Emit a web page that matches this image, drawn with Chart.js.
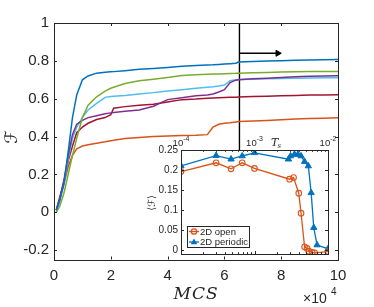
<!DOCTYPE html>
<html>
<head>
<meta charset="utf-8">
<script src="https://cdn.jsdelivr.net/npm/chart.js@4.4.0/dist/chart.umd.min.js"></script>
<style>
html, body { margin: 0; padding: 0; background: #fff; }
#wrap { position: relative; width: 374px; height: 307px; }
canvas { position: absolute; left: 0; top: 0; }
</style>
</head>
<body>
<div id="wrap">
  <canvas id="main" width="374" height="307"></canvas>
  <canvas id="inset" width="374" height="307"></canvas>
</div>
<script>
// main panel: F vs MCS (x in units of 10^4)
const mcs = [0.08, 0.2, 0.35, 0.5, 0.65, 0.8, 1.0, 1.2, 1.5, 1.8, 2.0, 2.1, 2.5, 3.0, 3.5, 4.0,
  4.5, 5.0, 5.4, 5.6, 5.8, 6.0, 6.2, 6.4, 6.5, 7.0, 7.5, 8.0, 8.5, 9.0, 9.5, 10];
const fBlue = [0.01, 0.06, 0.15, 0.32, 0.50, 0.62, 0.70, 0.72, 0.735, 0.74, 0.742, 0.743, 0.748, 0.755, 0.76, 0.765,
  0.771, 0.775, 0.778, 0.779, 0.781, 0.783, 0.785, 0.787, 0.794, 0.797, 0.799, 0.801, 0.803, 0.805, 0.806, 0.807];
const fGreen = [0.0, 0.03, 0.1, 0.2, 0.3, 0.39, 0.5, 0.565, 0.61, 0.64, 0.655, 0.66, 0.68, 0.695, 0.703, 0.712,
  0.722, 0.727, 0.729, 0.73, 0.731, 0.732, 0.733, 0.734, 0.735, 0.737, 0.739, 0.741, 0.742, 0.743, 0.743, 0.744];
const fCyan = [0.0, 0.06, 0.15, 0.28, 0.39, 0.45, 0.50, 0.54, 0.575, 0.607, 0.612, 0.613, 0.617, 0.625, 0.632, 0.64,
  0.647, 0.655, 0.66, 0.663, 0.667, 0.672, 0.695, 0.7, 0.702, 0.703, 0.705, 0.707, 0.708, 0.709, 0.71, 0.711];
const fPurple = [0.01, 0.07, 0.17, 0.3, 0.41, 0.465, 0.485, 0.5, 0.51, 0.52, 0.525, 0.527, 0.533, 0.54, 0.56, 0.595,
  0.605, 0.615, 0.62, 0.625, 0.635, 0.648, 0.685, 0.698, 0.70, 0.705, 0.708, 0.712, 0.716, 0.718, 0.72, 0.721];
const fRed = [0.01, 0.07, 0.16, 0.27, 0.35, 0.42, 0.45, 0.47, 0.49, 0.5, 0.515, 0.55, 0.558, 0.565, 0.57, 0.582,
  0.595, 0.598, 0.602, 0.604, 0.605, 0.606, 0.607, 0.608, 0.609, 0.611, 0.613, 0.615, 0.617, 0.619, 0.62, 0.621];
const fOrange = [0.01, 0.08, 0.15, 0.24, 0.3, 0.335, 0.35, 0.356, 0.365, 0.372, 0.378, 0.38, 0.39, 0.395, 0.4, 0.403,
  0.405, 0.407, 0.41, 0.45, 0.465, 0.47, 0.473, 0.477, 0.479, 0.482, 0.485, 0.488, 0.492, 0.495, 0.497, 0.499];
const xTicks = [0, 2, 4, 6, 8, 10];
const yTicks = [-0.2, 0, 0.2, 0.4, 0.6, 0.8, 1];

// marker line + arrow
const cutMcs = 6.53;
const arrowEnd = 7.88;
const arrowF = 0.84;

// inset: <F> vs T_s
const tsOpen = [1e-4, 3e-4, 4.8e-4, 6.8e-4, 1e-3, 3.0e-3, 3.4e-3, 4.0e-3, 4.3e-3, 4.8e-3, 5.2e-3, 5.5e-3, 6.1e-3, 6.6e-3, 1e-2];
const fOpen = [0.196, 0.218, 0.203, 0.218, 0.204, 0.177, 0.181, 0.142, 0.092, 0.008, 0.004, -0.003, -0.006, -0.007, -0.004];
const tsPer = [1e-4, 3e-4, 4.8e-4, 6.8e-4, 1e-3, 2.9e-3, 3.1e-3, 3.5e-3, 3.9e-3, 4.3e-3, 4.8e-3, 5.4e-3, 5.9e-3, 6.4e-3, 7.1e-3, 1e-2];
const fPer = [0.21, 0.236, 0.227, 0.235, 0.243, 0.227, 0.235, 0.239, 0.239, 0.235, 0.221, 0.21, 0.143, 0.056, 0.0125, 0.003];
const insetYTicks = [0, 0.05, 0.1, 0.15, 0.2, 0.25];
const insetXTicks = [1e-4, 1e-3, 1e-2];

const AX = '#262626';
const SANS = '"Liberation Sans", Arial, sans-serif';

function curve(ys, color) {
  return { data: mcs.map((x, i) => ({ x, y: ys[i] })), borderColor: color, borderWidth: 1.5,
    pointRadius: 0, tension: 0, fill: false };
}

function seg(ctx, x1, y1, x2, y2) { ctx.moveTo(x1, y1); ctx.lineTo(x2, y2); }
const px = v => Math.round(v) + 0.5;

const mainDeco = {
  id: 'mainDeco',
  afterDraw(chart) {
    const ctx = chart.ctx, ca = chart.chartArea;
    const xs = chart.scales.x, ys = chart.scales.y;
    ctx.save();
    ctx.strokeStyle = AX;
    ctx.lineWidth = 1;
    ctx.strokeRect(px(ca.left), px(ca.top), Math.round(ca.right - ca.left), Math.round(ca.bottom - ca.top));
    ctx.beginPath();
    xTicks.forEach(v => {
      const p = px(xs.getPixelForValue(v));
      seg(ctx, p, ca.bottom, p, ca.bottom - 3);
      seg(ctx, p, ca.top, p, ca.top + 3);
    });
    yTicks.forEach(v => {
      const p = px(ys.getPixelForValue(v));
      seg(ctx, ca.left, p, ca.left + 3, p);
      seg(ctx, ca.right, p, ca.right - 3, p);
    });
    ctx.stroke();

    ctx.fillStyle = AX;
    // y label
    ctx.save();
    ctx.translate(13, 137);
    ctx.rotate(-Math.PI / 2);
    ctx.font = '17px "DejaVu Serif", "DejaVu Sans"';
    ctx.textAlign = 'center';
    ctx.textBaseline = 'middle';
    ctx.fillText('ℱ', 0, 0);
    ctx.restore();
    // x label
    ctx.font = 'italic 17px "DejaVu Serif", serif';
    ctx.textAlign = 'center';
    ctx.textBaseline = 'alphabetic';
    ctx.letterSpacing = '1px';
    ctx.fillText('MCS', 196, 299);
    ctx.letterSpacing = '0px';
    // exponent
    ctx.font = '14px ' + SANS;
    ctx.textAlign = 'left';
    ctx.fillText('×10', 303, 303);
    ctx.font = '10px ' + SANS;
    ctx.fillText('4', 331, 295);
    ctx.restore();
  }
};

new Chart(document.getElementById('main'), {
  type: 'line',
  data: {
    datasets: [
      Object.assign(curve(fBlue, '#0072BD'), { label: 'b' }),
      Object.assign(curve(fGreen, '#77AC30'), { label: 'g' }),
      Object.assign(curve(fPurple, '#7E2F8E'), { label: 'p' }),
      Object.assign(curve(fCyan, '#4DBEEE'), { label: 'c' }),
      Object.assign(curve(fRed, '#A2142F'), { label: 'r' }),
      Object.assign(curve(fOrange, '#D95319'), { label: 'o' }),
      { label: 'cut', data: [{ x: cutMcs, y: 1 }, { x: cutMcs, y: 0.3 }], borderColor: '#000',
        borderWidth: 1.4, pointRadius: 0 },
      { label: 'arrow', data: [{ x: cutMcs, y: arrowF }, { x: arrowEnd, y: arrowF }], borderColor: '#000',
        borderWidth: 1.4, pointRadius: [0, 3.5], pointStyle: 'triangle', rotation: 90,
        pointBackgroundColor: '#000', pointBorderColor: '#000', pointBorderWidth: 1 }
    ]
  },
  options: {
    responsive: false,
    animation: false,
    devicePixelRatio: 1,
    layout: { padding: { left: 0, top: 23, right: 36, bottom: 0 } },
    plugins: { legend: { display: false }, tooltip: { enabled: false } },
    scales: {
      x: {
        type: 'linear', min: 0, max: 10,
        grid: { display: false, drawTicks: false }, border: { display: false },
        afterBuildTicks: s => { s.ticks = xTicks.map(v => ({ value: v })); },
        afterFit: s => { s.height = 47.5; },
        ticks: { color: AX, font: { family: SANS, size: 15 }, padding: 7, maxRotation: 0,
          callback: v => String(v) }
      },
      y: {
        min: -0.25, max: 1,
        grid: { display: false, drawTicks: false }, border: { display: false },
        afterBuildTicks: s => { s.ticks = yTicks.map(v => ({ value: v })); },
        afterFit: s => { s.width = 54; },
        ticks: { color: AX, font: { family: SANS, size: 15 }, padding: 5,
          callback: v => String(Math.round(v * 10) / 10) }
      }
    }
  },
  plugins: [mainDeco]
});

const insetDeco = {
  id: 'insetDeco',
  beforeDatasetsDraw(chart) {
    const ctx = chart.ctx, ca = chart.chartArea;
    ctx.save();
    ctx.fillStyle = '#fff';
    ctx.fillRect(ca.left, ca.top, ca.right - ca.left, ca.bottom - ca.top);
    ctx.restore();
  },
  afterDraw(chart) {
    const ctx = chart.ctx, ca = chart.chartArea;
    const xs = chart.scales.x, ys = chart.scales.y;
    ctx.save();
    ctx.strokeStyle = AX;
    ctx.lineWidth = 1;
    ctx.strokeRect(px(ca.left), px(ca.top), Math.round(ca.right - ca.left), Math.round(ca.bottom - ca.top));
    ctx.beginPath();
    for (let e = -4; e < -2; e++) {
      for (let m = 1; m <= 9; m++) {
        const v = m * Math.pow(10, e);
        const p = px(xs.getPixelForValue(v));
        const len = m === 1 ? 3 : 1.8;
        seg(ctx, p, ca.top, p, ca.top + len);
        seg(ctx, p, ca.bottom, p, ca.bottom - len);
      }
    }
    insetYTicks.forEach(v => {
      const p = px(ys.getPixelForValue(v));
      seg(ctx, ca.left, p, ca.left + 3, p);
      seg(ctx, ca.right, p, ca.right - 3, p);
    });
    ctx.stroke();

    ctx.fillStyle = AX;
    // top tick labels 10^n
    insetXTicks.forEach(v => {
      const p = xs.getPixelForValue(v);
      const exp = String(Math.round(Math.log10(v)));
      ctx.font = '9.5px ' + SANS;
      const w1 = ctx.measureText('10').width;
      ctx.font = '7px ' + SANS;
      const w2 = ctx.measureText(exp).width;
      const x0 = p - (w1 + w2) / 2;
      ctx.textAlign = 'left';
      ctx.textBaseline = 'alphabetic';
      ctx.font = '9.5px ' + SANS;
      ctx.fillText('10', x0, 146);
      ctx.font = '7px ' + SANS;
      ctx.fillText(exp, x0 + w1, 141);
    });
    // T_s
    ctx.font = 'italic 11px "DejaVu Serif", serif';
    ctx.fillText('T', 271, 146);
    ctx.font = 'italic 7px "DejaVu Serif", serif';
    ctx.fillText('s', 277.5, 148);
    // y label
    ctx.save();
    ctx.translate(152, 203);
    ctx.rotate(-Math.PI / 2);
    ctx.font = '10px "DejaVu Serif", "DejaVu Sans"';
    ctx.textAlign = 'center';
    ctx.textBaseline = 'middle';
    ctx.fillText('⟨ℱ⟩', 0, 0);
    ctx.restore();

    // legend
    const lx = 187, ly = 226, lw = 62, lh = 21;
    ctx.fillStyle = '#fff';
    ctx.fillRect(lx, ly, lw, lh);
    ctx.strokeStyle = AX;
    ctx.strokeRect(lx + 0.5, ly + 0.5, lw, lh);
    chart.data.datasets.forEach((ds, i) => {
      const cy = ly + 5.5 + i * 10.5;
      ctx.strokeStyle = ds.borderColor;
      ctx.lineWidth = 1.3;
      ctx.beginPath();
      seg(ctx, lx + 2, cy, lx + 12, cy);
      ctx.stroke();
      ctx.beginPath();
      if (ds.pointStyle === 'triangle') {
        ctx.fillStyle = ds.borderColor;
        ctx.moveTo(lx + 7, cy - 3.5);
        ctx.lineTo(lx + 10.3, cy + 2.3);
        ctx.lineTo(lx + 3.7, cy + 2.3);
        ctx.closePath();
        ctx.fill();
      } else {
        ctx.arc(lx + 7, cy, 2.7, 0, Math.PI * 2);
        ctx.stroke();
      }
      ctx.fillStyle = AX;
      ctx.font = '9.5px ' + SANS;
      ctx.textAlign = 'left';
      ctx.textBaseline = 'middle';
      ctx.fillText(ds.label, lx + 13, cy + 0.5);
    });
    ctx.restore();
  }
};

new Chart(document.getElementById('inset'), {
  type: 'line',
  data: {
    datasets: [
      { label: '2D open', data: tsOpen.map((t, i) => ({ x: t, y: fOpen[i] })), borderColor: '#D95319',
        borderWidth: 1.3, pointStyle: 'circle', pointRadius: 2.8, pointBorderWidth: 1.1,
        pointBorderColor: '#D95319', pointBackgroundColor: 'rgba(0,0,0,0)', tension: 0 },
      { label: '2D periodic', data: tsPer.map((t, i) => ({ x: t, y: fPer[i] })), borderColor: '#0072BD',
        borderWidth: 1.3, pointStyle: 'triangle', pointRadius: 3.6, pointBorderWidth: 1,
        pointBorderColor: '#0072BD', pointBackgroundColor: '#0072BD', tension: 0 }
    ]
  },
  options: {
    responsive: false,
    animation: false,
    devicePixelRatio: 1,
    layout: { padding: { left: 150, top: 150, right: 46, bottom: 53 } },
    plugins: { legend: { display: false }, tooltip: { enabled: false } },
    scales: {
      x: {
        type: 'logarithmic', position: 'top', min: 1e-4, max: 1e-2,
        grid: { display: false, drawTicks: false }, border: { display: false },
        ticks: { display: false },
        afterFit: s => { s.height = 0; }
      },
      y: {
        min: -0.01, max: 0.25,
        grid: { display: false, drawTicks: false }, border: { display: false },
        afterBuildTicks: s => { s.ticks = insetYTicks.map(v => ({ value: v })); },
        afterFit: s => { s.width = 31; },
        ticks: { color: AX, font: { family: SANS, size: 10 }, padding: 3,
          callback: v => String(Math.round(v * 100) / 100) }
      }
    }
  },
  plugins: [insetDeco]
});
</script>
</body>
</html>
